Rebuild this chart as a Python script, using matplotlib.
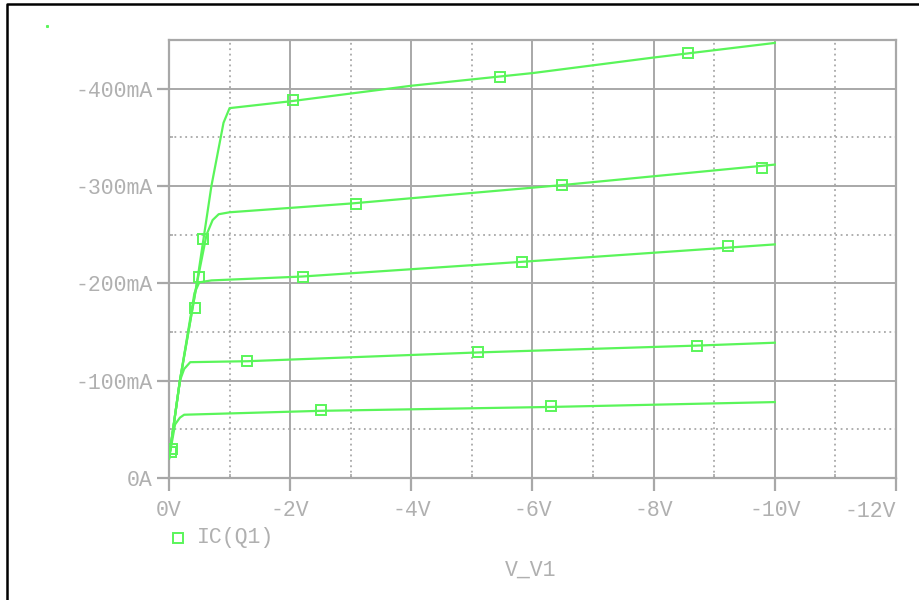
import matplotlib
matplotlib.use("Agg")
import matplotlib.pyplot as plt
from matplotlib.lines import Line2D
from matplotlib.ticker import MultipleLocator, FuncFormatter

# V_V1 sweep (volts) and IC(Q1) (mA) for each base-current step
v_ib1 = [0, -0.18, -0.46, -0.70, -0.90, -1.0, -2.0, -4.0, -6.0, -8.0, -10.0]
i_ib1 = [-20, -100, -200, -300, -365, -380, -387, -403, -416, -432, -447]

v_ib2 = [0, -0.18, -0.46, -0.62, -0.72, -0.82, -1.0, -3.0, -6.5, -10.0]
i_ib2 = [-20, -100, -200, -250, -265, -271, -273, -282, -301, -322]

v_ib3 = [0, -0.18, -0.42, -0.50, -0.70, -2.2, -5.8, -10.0]
i_ib3 = [-20, -100, -190, -201, -203, -207, -222, -240]

v_ib4 = [0, -0.18, -0.25, -0.35, -1.3, -5.1, -8.7, -10.0]
i_ib4 = [-20, -100, -112, -119, -120, -129, -136, -139]

v_ib5 = [0, -0.10, -0.18, -0.25, -2.5, -6.3, -10.0]
i_ib5 = [-20, -55, -62, -65, -69, -73, -78]

# square markers as placed by the probe
mk_v1 = [-0.56, -2.05, -5.46, -8.56]
mk_i1 = [-246, -388, -412, -437]
mk_v2 = [-0.49, -3.08, -6.48, -9.78]
mk_i2 = [-206, -282, -301, -319]
mk_v3 = [-0.43, -2.21, -5.82, -9.22]
mk_i3 = [-175, -207, -222, -238]
mk_v4 = [-0.05, -1.29, -5.10, -8.71]
mk_i4 = [-30, -120, -129, -136]
mk_v5 = [-0.03, -2.51, -6.30]
mk_i5 = [-27, -70, -74]

curves = [(v_ib1, i_ib1, mk_v1, mk_i1), (v_ib2, i_ib2, mk_v2, mk_i2),
          (v_ib3, i_ib3, mk_v3, mk_i3), (v_ib4, i_ib4, mk_v4, mk_i4),
          (v_ib5, i_ib5, mk_v5, mk_i5)]

green = "#5af55a"
grey = "#a8a8a8"
txt_grey = "#b0b0b0"
plt.rcParams["font.family"] = ["Liberation Mono", "DejaVu Sans Mono"]

fig = plt.figure(figsize=(9.2, 6), dpi=100)
ax = fig.add_axes([169 / 920, 1 - 478 / 600, (896 - 169) / 920, (478 - 40) / 600])

for v, i, mv, mi in curves:
    ax.plot(v, i, color=green, lw=1.6, zorder=3)
    ax.plot(mv, mi, ls="none", marker="s", ms=7, mfc="none", mec=green, mew=1.4, zorder=4)

x_max = -12
ax.set_xlim(0, x_max)
ax.set_ylim(0, -450)


def vfmt(x, p):
    if x == 0:
        return "0V"
    if x == x_max:
        return ""  # drawn separately, shifted left of the tick
    return f"{x:.0f}V"


ax.xaxis.set_major_locator(MultipleLocator(2))
ax.xaxis.set_minor_locator(MultipleLocator(1))
ax.yaxis.set_major_locator(MultipleLocator(100))
ax.yaxis.set_minor_locator(MultipleLocator(50))
ax.xaxis.set_major_formatter(FuncFormatter(vfmt))
ax.yaxis.set_major_formatter(FuncFormatter(lambda y, p: "0A" if y == 0 else f"{y:.0f}mA"))

ax.grid(which="major", color=grey, lw=1.4, ls="-")
ax.grid(which="minor", color=grey, lw=1.3, ls=(0, (1, 2)))
ax.set_axisbelow(True)

for s in ax.spines.values():
    s.set_color(grey)
    s.set_linewidth(1.6)

ax.tick_params(which="major", direction="out", length=9, width=1.6, color=grey,
               labelcolor=txt_grey, labelsize=15.5)
ax.tick_params(axis="y", which="major", pad=3)
ax.tick_params(axis="x", which="major", pad=7)
ax.tick_params(which="minor", direction="in", length=3, width=1.2, color=grey)

ax.annotate(f"{x_max}V", xy=(x_max, 0), xycoords=("data", "axes fraction"),
            xytext=(0, -16.5), textcoords="offset points", ha="right", va="top",
            color=txt_grey, fontsize=15.5)

# legend entry and axis title
fig.add_artist(Line2D([178 / 920], [1 - 538 / 600], marker="s", ms=7, mfc="none",
                      mec=green, mew=1.4, ls="none"))
fig.text(197 / 920, 1 - 538 / 600, "IC(Q1)", color=txt_grey, fontsize=15.5,
         ha="left", va="center")
fig.text(531 / 920, 1 - 570 / 600, "V_V1", color=txt_grey, fontsize=15.5,
         ha="center", va="center")

# stray pixel and the window frame at top/left
fig.add_artist(Line2D([47 / 920], [1 - 26 / 600], marker="s", ms=1.2, color=green, ls="none"))
fig.add_artist(Line2D([7 / 920, 7 / 920, 1], [0, 1 - 4 / 600, 1 - 4 / 600],
                      color="black", lw=1.8))

fig.savefig("out.png", dpi=100, facecolor="white")
